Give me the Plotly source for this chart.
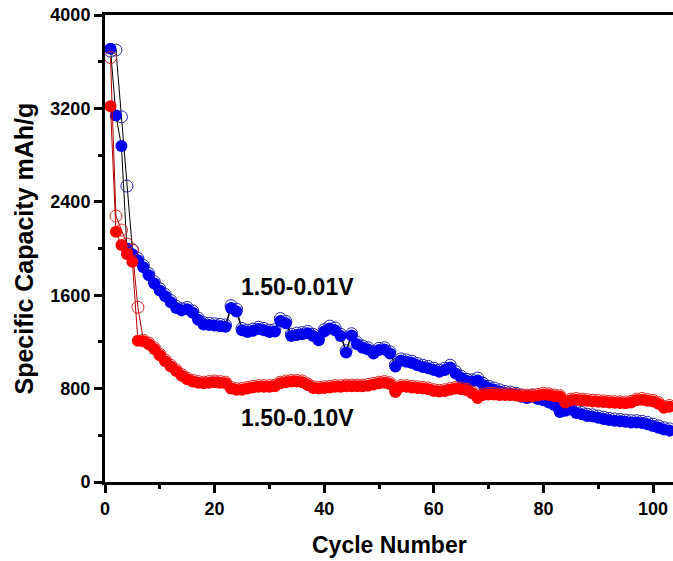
import plotly.graph_objects as go

cycles = list(range(1, 104))

blue_discharge = [3710, 3140, 2877, 2000, 1950, 1900, 1840, 1770, 1700, 1640,
                  1590, 1540, 1490, 1470, 1480, 1450, 1390, 1350, 1345, 1340,
                  1335, 1330, 1490, 1460, 1300, 1285, 1295, 1310, 1300, 1285,
                  1290, 1380, 1360, 1250, 1260, 1265, 1275, 1250, 1215, 1290,
                  1315, 1300, 1250, 1110, 1255, 1180, 1150, 1135, 1100, 1130,
                  1135, 1100, 990, 1040, 1030, 1020, 1000, 985, 975, 960,
                  945, 960, 980, 930, 890, 865, 860, 870, 830, 805,
                  790, 775, 760, 755, 745, 730, 720, 730, 710, 700,
                  680, 660, 600, 610, 620, 590, 580, 565, 560, 550,
                  540, 530, 525, 520, 515, 510, 510, 505, 495, 480,
                  465, 450, 440]

blue_charge = [3690, 3700, 3128, 2535, 1990, 1915, 1855, 1785, 1715, 1655,
               1605, 1555, 1505, 1485, 1495, 1465, 1405, 1365, 1360, 1355,
               1350, 1345, 1510, 1480, 1315, 1300, 1310, 1325, 1315, 1300,
               1305, 1400, 1375, 1265, 1275, 1280, 1290, 1265, 1230, 1305,
               1335, 1320, 1265, 1125, 1270, 1195, 1165, 1150, 1115, 1145,
               1150, 1115, 1005, 1055, 1045, 1035, 1015, 1000, 990, 975,
               960, 975, 1000, 945, 905, 880, 875, 890, 845, 820,
               805, 790, 775, 770, 760, 745, 735, 745, 725, 715,
               695, 675, 615, 625, 635, 605, 595, 580, 575, 565,
               555, 545, 540, 535, 530, 525, 525, 520, 510, 495,
               480, 465, 455]

red_discharge = [3218, 2144, 2030, 1953, 1887, 1210, 1205, 1180, 1140, 1085,
                 1035, 990, 950, 910, 880, 860, 850, 845, 850, 855,
                 850, 845, 800, 790, 790, 800, 810, 815, 815, 815,
                 820, 845, 855, 860, 860, 855, 830, 805, 800, 805,
                 810, 815, 815, 820, 820, 820, 820, 825, 835, 845,
                 850, 840, 770, 815, 815, 810, 805, 800, 795, 780,
                 775, 780, 790, 800, 795, 785, 760, 720, 745, 750,
                 750, 745, 745, 745, 740, 735, 735, 735, 740, 750,
                 745, 735, 730, 680, 700, 705, 700, 695, 690, 688,
                 685, 680, 678, 676, 675, 680, 700, 705, 695, 690,
                 670, 635, 645]

red_charge = [3636, 2278, 2158, 2039, 1987, 1497, 1215, 1190, 1150, 1095,
              1045, 1000, 960, 920, 890, 870, 860, 855, 860, 865,
              860, 855, 810, 800, 800, 810, 820, 825, 825, 825,
              830, 855, 865, 870, 870, 865, 840, 815, 810, 815,
              820, 825, 825, 830, 830, 830, 830, 835, 845, 855,
              860, 850, 780, 825, 825, 820, 815, 810, 805, 790,
              785, 790, 800, 810, 805, 795, 770, 730, 755, 760,
              760, 755, 755, 755, 750, 745, 745, 745, 750, 760,
              755, 745, 740, 690, 710, 715, 710, 705, 700, 698,
              695, 690, 688, 686, 685, 690, 710, 715, 705, 700,
              680, 645, 655]

labels = ["1.50-0.01V", "1.50-0.10V"]
label_x = [35.2, 35.2]
label_y = [1670, 550]

x_ticks = [0, 20, 40, 60, 80, 100]
y_ticks = [0, 800, 1600, 2400, 3200, 4000]

x_title = "Cycle Number"
y_title = "Specific Capacity mAh/g"

BLUE = "rgb(0,0,240)"
RED = "rgb(255,0,0)"
FONT = "Liberation Sans"

fig = go.Figure()

fig.add_trace(go.Scatter(
    x=cycles, y=blue_charge, mode="lines+markers",
    line=dict(color="black", width=1),
    marker=dict(symbol="circle-open", size=12, color="rgb(40,40,170)",
                line=dict(width=1)),
    showlegend=False))
fig.add_trace(go.Scatter(
    x=cycles, y=blue_discharge, mode="lines+markers",
    line=dict(color="black", width=1),
    marker=dict(symbol="circle", size=12, color=BLUE),
    showlegend=False))
fig.add_trace(go.Scatter(
    x=cycles, y=red_charge, mode="lines+markers",
    line=dict(color="rgb(180,0,0)", width=1),
    marker=dict(symbol="circle-open", size=12, color="rgb(220,40,40)",
                line=dict(width=1)),
    showlegend=False))
fig.add_trace(go.Scatter(
    x=cycles, y=red_discharge, mode="lines+markers",
    line=dict(color="rgb(180,0,0)", width=1),
    marker=dict(symbol="circle", size=12, color=RED),
    showlegend=False))

for t, xx, yy in zip(labels, label_x, label_y):
    fig.add_annotation(x=xx, y=yy, text=t, showarrow=False,
                       font=dict(family=FONT, size=23, color="black",
                                 weight="bold"))

fig.add_annotation(xref="paper", yref="paper", x=0.5, y=0, yanchor="middle",
                   yshift=-63, text=x_title, showarrow=False,
                   font=dict(family=FONT, size=23, color="black",
                             weight="bold"))
fig.add_annotation(xref="paper", yref="paper", x=0, y=0.5, xanchor="center",
                   xshift=-82, textangle=-90, text=y_title, showarrow=False,
                   font=dict(family=FONT, size=25, color="black",
                             weight="bold"))

axis_common = dict(
    showgrid=False, zeroline=False, showline=True, linecolor="black",
    linewidth=3, ticks="outside", ticklen=8, tickwidth=2.5,
    tickcolor="black", automargin=False, ticklabeloverflow="allow",
    tickfont=dict(family=FONT, size=18, color="black", weight="bold"),
)

fig.update_xaxes(
    range=[0, 103.65], tickvals=x_ticks, mirror=True,
    minor=dict(dtick=10, tick0=0, ticks="outside", ticklen=4,
               tickwidth=2.5, tickcolor="black"),
    **axis_common)
fig.update_yaxes(
    range=[0, 4000], tickvals=y_ticks,
    minor=dict(dtick=400, tick0=0, ticks="outside", ticklen=4,
               tickwidth=2.5, tickcolor="black"),
    **axis_common)

fig.update_layout(
    width=673, height=561,
    margin=dict(l=105, r=0, t=15, b=79),
    plot_bgcolor="white", paper_bgcolor="white",
)

# remove the page's default body margin so the figure fills the window exactly
fig.write_html(
    "out.html",
    config={"displayModeBar": False},
    post_script="document.body.style.margin='0';"
                "document.body.style.overflow='hidden';",
)
